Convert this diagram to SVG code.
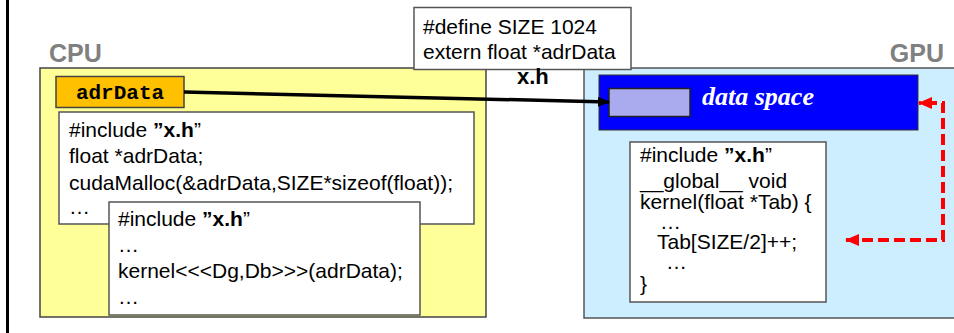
<svg xmlns="http://www.w3.org/2000/svg" width="954" height="333" viewBox="0 0 954 333">
  <style>
    .code { font-family: "Liberation Sans", Arial, sans-serif; font-size: 21px; fill: #000; }
    .b { font-weight: bold; }
    .label { font-family: "Liberation Sans", Arial, sans-serif; font-size: 25px; font-weight: bold; fill: #808080; }
    .box { fill: #fff; stroke: #555; stroke-width: 1.5; }
  </style>
  <defs>
    <marker id="arrowBlack" markerWidth="12" markerHeight="10" refX="11" refY="5" orient="auto" markerUnits="userSpaceOnUse">
      <path d="M0,0 L12,5 L0,10 Z" fill="#000"/>
    </marker>
    <marker id="arrowRed" markerWidth="14" markerHeight="12" refX="13" refY="6" orient="auto-start-reverse" markerUnits="userSpaceOnUse">
      <path d="M0,0 L14,6 L0,12 Z" fill="#f00"/>
    </marker>
  </defs>

  <rect x="0" y="0" width="954" height="333" fill="#fff"/>
  <!-- left page edge -->
  <line x1="7.5" y1="0" x2="7.5" y2="333" stroke="#000" stroke-width="3"/>

  <g id="cpu">
    <text class="label" x="49" y="62">CPU</text>
    <rect x="40" y="68" width="446" height="249" fill="#ffff99" stroke="#444" stroke-width="1.5"/>
  </g>

  <g id="gpu">
    <text class="label" x="944" y="62" text-anchor="end">GPU</text>
    <rect x="584" y="68" width="380" height="250" fill="#cceeff" stroke="#555" stroke-width="1.5"/>
  </g>

  <g id="header-file">
    <rect class="box" x="414" y="7.5" width="217" height="62"/>
    <text class="code" x="423" y="34">#define SIZE 1024</text>
    <text class="code" x="423" y="58.5">extern float *adrData</text>
    <text class="code b" x="517" y="83.5" style="font-size:22px">x.h</text>
  </g>

  <g id="adrData">
    <rect x="56" y="76.5" width="128" height="31" fill="#ffc000" stroke="#444" stroke-width="1.5"/>
    <text x="120" y="99" text-anchor="middle" style="font-family:'Liberation Mono','Courier New',monospace;font-size:21px;font-weight:bold">adrData</text>
  </g>

  <g id="host-code">
    <rect class="box" x="59" y="112" width="415" height="112"/>
    <text class="code" x="69" y="137">#include <tspan class="b">”x.h</tspan>”</text>
    <text class="code" x="69" y="163">float *adrData;</text>
    <text class="code" x="69" y="190">cudaMalloc(&amp;adrData,SIZE*sizeof(float));</text>
    <text class="code" x="69" y="214">…</text>
  </g>

  <g id="launch-code">
    <rect class="box" x="109" y="202" width="311" height="113"/>
    <text class="code" x="118" y="226">#include <tspan class="b">”x.h</tspan>”</text>
    <text class="code" x="118" y="252">…</text>
    <text class="code" x="118" y="278">kernel&lt;&lt;&lt;Dg,Db&gt;&gt;&gt;(adrData);</text>
    <text class="code" x="118" y="304">…</text>
  </g>

  <g id="data-space">
    <rect x="599" y="75" width="319" height="55" fill="#0000ff" stroke="#333" stroke-width="1"/>
    <rect x="609" y="88.5" width="81" height="28" fill="#aaaaee" stroke="#222" stroke-width="1.5"/>
    <text x="702" y="105" fill="#fff" style="font-family:'Liberation Serif','Times New Roman',serif;font-size:26px;font-weight:bold;font-style:italic">data space</text>
  </g>

  <g id="kernel-code">
    <rect class="box" x="630" y="142" width="196" height="160"/>
    <text class="code" x="640" y="162">#include <tspan class="b">”x.h</tspan>”</text>
    <text class="code" x="640" y="188">__global__ void</text>
    <text class="code" x="640" y="209">kernel(float *Tab) {</text>
    <text class="code" x="660" y="229">…</text>
    <text class="code" x="657" y="249">Tab[SIZE/2]++;</text>
    <text class="code" x="666" y="269">…</text>
    <text class="code" x="640" y="291">}</text>
  </g>

  <g id="connectors">
    <line x1="184" y1="92" x2="609" y2="102" stroke="#000" stroke-width="3.5" marker-end="url(#arrowBlack)"/>
    <polyline points="846,240 943,240 943,103 919,103" fill="none" stroke="#f00" stroke-width="4" stroke-dasharray="11,5" marker-start="url(#arrowRed)" marker-end="url(#arrowRed)"/>
  </g>
</svg>
